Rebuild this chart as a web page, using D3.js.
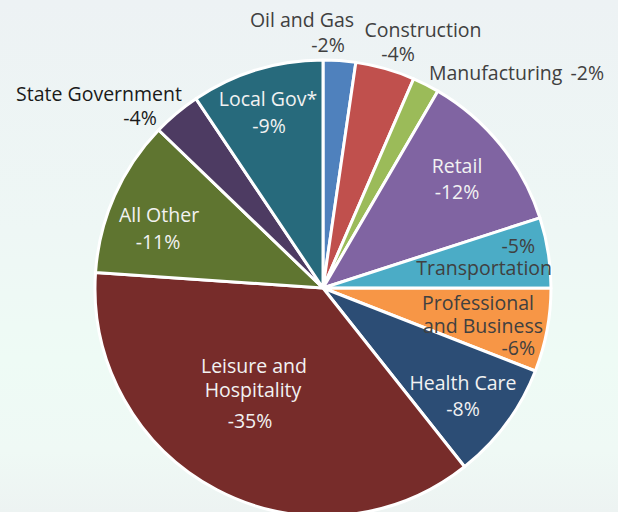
<!DOCTYPE html>
<html>
<head>
<meta charset="utf-8">
<script src="https://cdn.jsdelivr.net/npm/d3@7/dist/d3.min.js"></script>
<style>
html,body{margin:0;padding:0;overflow:hidden;}
svg{display:block;font-family:"Open Sans",sans-serif;}
</style>
</head>
<body>
<svg id="chart" width="618" height="512"></svg>
<script>
// Data
const categories = ["Oil and Gas","Construction","Manufacturing","Retail","Transportation","Professional and Business","Health Care","Leisure and Hospitality","All Other","State Government","Local Gov*"];
const values = [2.3, 4.2, 1.9, 11.6, 5.0, 5.9, 8.4, 36.7, 11.1, 3.4, 9.4];
const valueLabels = ["-2%","-4%","-2%","-12%","-5%","-6%","-8%","-35%","-11%","-4%","-9%"];
const colors = ["#4f81bd","#c0504d","#9bbb59","#8064a2","#4bacc6","#f79646","#2c4d75","#772c2a","#5f7530","#4d3b62","#276a7c"];
const labelColor = ["#404040","#404040","#404040","#f2f2f2","#404040","#404040","#f2f2f2","#f2f2f2","#f2f2f2","#1a1a1a","#f2f2f2"];

// label lines per category: [text, x, baselineY, anchor]
const labelLines = [
  [["Oil and Gas",302,27,"middle"],["-2%",328,52,"middle"]],
  [["Construction",423,37,"middle"],["-4%",398,61,"middle"]],
  [["Manufacturing",429,80,"start"],["-2%",604,80,"end"]],
  [["Retail",457,173,"middle"],["-12%",457,199,"middle"]],
  [["-5%",535,253,"end"],["Transportation",552,275,"end"]],
  [["Professional",478,310,"middle"],["and Business",483,333,"middle"],["-6%",535,355,"end"]],
  [["Health Care",463,390,"middle"],["-8%",463,416,"middle"]],
  [["Leisure and",254,373,"middle"],["Hospitality",253,397,"middle"],["-35%",250,428,"middle"]],
  [["All Other",159,222,"middle"],["-11%",158,249,"middle"]],
  [["State Government",99,101,"middle"],["-4%",140,125,"middle"]],
  [["Local Gov*",268,106,"middle"],["-9%",269,133,"middle"]]
];

const W = 618, H = 512;
const cx = 323, cy = 288, R = 228;
const svg = d3.select("#chart");

const defs = svg.append("defs");
const grad = defs.append("linearGradient").attr("id","bg").attr("x1",0).attr("y1",0).attr("x2",0).attr("y2",1);
[[0,"#edf2f4"],[0.45,"#eef7f5"],[0.7,"#eefbf5"],[0.88,"#eff9f5"],[1,"#edf3f2"]].forEach(s=>grad.append("stop").attr("offset",s[0]).attr("stop-color",s[1]));
svg.append("rect").attr("width",W).attr("height",H).attr("fill","url(#bg)");

const pie = d3.pie().sort(null).value(d=>d);
const arcs = pie(values);
const arc = d3.arc().innerRadius(0).outerRadius(R);

const g = svg.append("g").attr("transform",`translate(${cx},${cy})`);
g.selectAll("path").data(arcs).enter().append("path")
  .attr("d",arc)
  .attr("fill",(d,i)=>colors[i])
  .attr("stroke","#ffffff")
  .attr("stroke-width",3)
  .attr("stroke-linejoin","round");

const lg = svg.append("g");
labelLines.forEach((lines,i)=>{
  lines.forEach(([t,x,y,anchor])=>{
    lg.append("text")
      .attr("x",x).attr("y",y)
      .attr("text-anchor",anchor)
      .attr("font-size",19.5)
      .attr("fill",labelColor[i])
      .text(t);
  });
});
</script>
</body>
</html>
